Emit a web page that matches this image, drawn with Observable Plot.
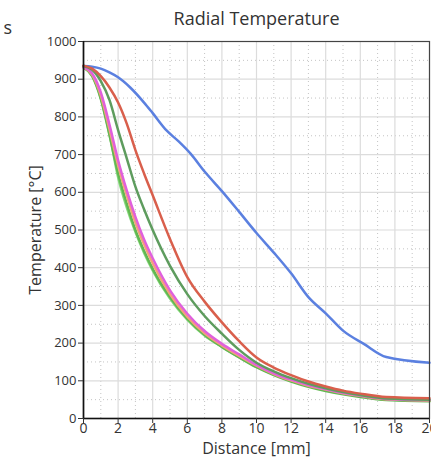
<!DOCTYPE html>
<html>
<head>
<meta charset="utf-8">
<script src="https://cdn.jsdelivr.net/npm/d3@7"></script>
<script src="https://cdn.jsdelivr.net/npm/@observablehq/plot@0.6"></script>
<style>
  html, body { margin: 0; padding: 0; background: #fff; overflow: hidden; width: 431px; height: 458px; }
  #chart { position: absolute; left: 0; top: 0; width: 445px; }
  #chart svg { max-width: none !important; }
</style>
</head>
<body>
<div id="chart"></div>
<script>
const distance = [0, 0.5, 1, 1.5, 2, 2.5, 3, 3.5, 4, 5, 6, 7, 8, 9, 10, 11, 12, 13, 14, 15, 16, 17.5, 20];

const blueDist = [0, 0.5, 1, 1.5, 2, 2.7, 3.5, 4, 4.8, 5.5, 6.2, 7, 8, 9, 10, 11, 12, 13, 14, 15, 16.2, 17.5, 20];
const blueTemp = [935, 933, 928, 918, 905, 878, 838, 810, 764, 735, 702, 655, 603, 548, 492, 440, 385, 322, 279, 233, 198, 163, 148];

const redTemp       = [936, 928, 908, 878, 838, 782, 712, 650, 592, 476, 375, 310, 255, 205, 162, 135, 115, 98, 85, 74, 66, 57, 54];
const darkGreenTemp = [935, 925, 895, 845, 765, 690, 615, 555, 500, 405, 330, 272, 225, 182, 148, 125, 107, 92, 80, 70, 62, 53, 50];
const magentaTemp   = [933, 915, 865, 780, 685, 605, 535, 475, 425, 340, 278, 232, 198, 170, 142, 120, 103, 89, 78, 68, 61, 52, 49];
const salmonTemp    = [932, 912, 857, 768, 672, 592, 520, 462, 412, 330, 270, 226, 194, 166, 140, 118, 101, 87, 77, 67, 60, 51, 48];
const greenTemp     = [931, 908, 848, 752, 650, 570, 500, 445, 397, 322, 265, 222, 190, 162, 136, 115, 98, 84, 73, 64, 57, 49, 46];
const lightGreenTemp= [932, 910, 850, 755, 640, 560, 495, 440, 393, 318, 262, 220, 190, 163, 137, 117, 100, 86, 75, 66, 59, 50, 47];

const seriesNames  = ["S1", "S2", "S3", "S4", "S5", "S6", "S7"];
const seriesColors = ["#5b80e0", "#d95f4c", "#5e9c5e", "#e060dc", "#f4a07c", "#62b752", "#84d97a"];

const xMajor = [0, 2, 4, 6, 8, 10, 12, 14, 16, 18, 20];
const xMinor = [1, 3, 5, 7, 9, 11, 13, 15, 17, 19];
const yMajor = [0, 100, 200, 300, 400, 500, 600, 700, 800, 900, 1000];
const yMinor = [50, 150, 250, 350, 450, 550, 650, 750, 850, 950];

const titleText = "Radial Temperature";
const xLabel = "Distance [mm]";
const yLabel = "Temperature [°C]";
const cornerText = "s";

const rows = [];
blueDist.forEach((d, i) => rows.push({series: "S1", d, t: blueTemp[i]}));
const others = [
  ["S2", redTemp], ["S3", darkGreenTemp], ["S4", magentaTemp],
  ["S5", salmonTemp], ["S6", greenTemp], ["S7", lightGreenTemp]
];
const drawOrder = ["S1", "S7", "S6", "S5", "S4", "S3", "S2"];
others.forEach(([name, arr]) => arr.forEach((t, i) => rows.push({series: name, d: distance[i], t})));
rows.sort((a, b) => drawOrder.indexOf(a.series) - drawOrder.indexOf(b.series));

const chart = Plot.plot({
  width: 445,
  height: 458,
  marginLeft: 83,
  marginRight: 16,
  marginTop: 41,
  marginBottom: 40,
  style: {fontFamily: "'Open Sans', sans-serif", color: "#333", background: "#fff", maxWidth: "none"},
  x: {domain: [0, 20], label: null},
  y: {domain: [0, 1000], label: null},
  color: {type: "ordinal", domain: seriesNames, range: seriesColors},
  marks: [
    Plot.gridX(xMinor, {stroke: "#c4c4c4", strokeOpacity: 1, strokeDasharray: "1,3"}),
    Plot.gridY(yMinor, {stroke: "#c4c4c4", strokeOpacity: 1, strokeDasharray: "1,3"}),
    Plot.gridX(xMajor, {stroke: "#dcdcdc", strokeOpacity: 1, strokeWidth: 1.2}),
    Plot.gridY(yMajor, {stroke: "#dcdcdc", strokeOpacity: 1, strokeWidth: 1.2}),
    Plot.line(rows, {x: "d", y: "t", z: "series", stroke: "series", strokeWidth: 2.5, curve: "monotone-x"}),
    Plot.frame({stroke: "#444", strokeWidth: 1.2}),
    Plot.ruleX([0], {stroke: "#111", strokeWidth: 1.6}),
    Plot.ruleY([0], {stroke: "#111", strokeWidth: 1.6}),
    Plot.axisX({ticks: xMajor, tickSize: 5, tickPadding: 0, fontSize: 14, label: null, stroke: "#333", tickFormat: d => String(d)}),
    Plot.axisY({ticks: yMajor, tickSize: 5, tickPadding: 2, fontSize: 13, label: null, stroke: "#333", tickFormat: d => String(d)}),
    Plot.text([xLabel], {frameAnchor: "bottom", dy: 35, lineAnchor: "bottom", fontSize: 16, fill: "#333"}),
    Plot.text([yLabel], {frameAnchor: "left", dx: -48, rotate: -90, textAnchor: "middle", lineAnchor: "middle", fontSize: 16, fill: "#333"}),
    Plot.text([titleText], {frameAnchor: "top", dy: -29, lineAnchor: "top", fontSize: 18, fill: "#333"}),
    Plot.text([cornerText], {frameAnchor: "top-left", dx: -80, dy: -20, textAnchor: "start", lineAnchor: "top", fontSize: 18, fill: "#333"})
  ]
});
document.getElementById("chart").appendChild(chart);
</script>
</body>
</html>
